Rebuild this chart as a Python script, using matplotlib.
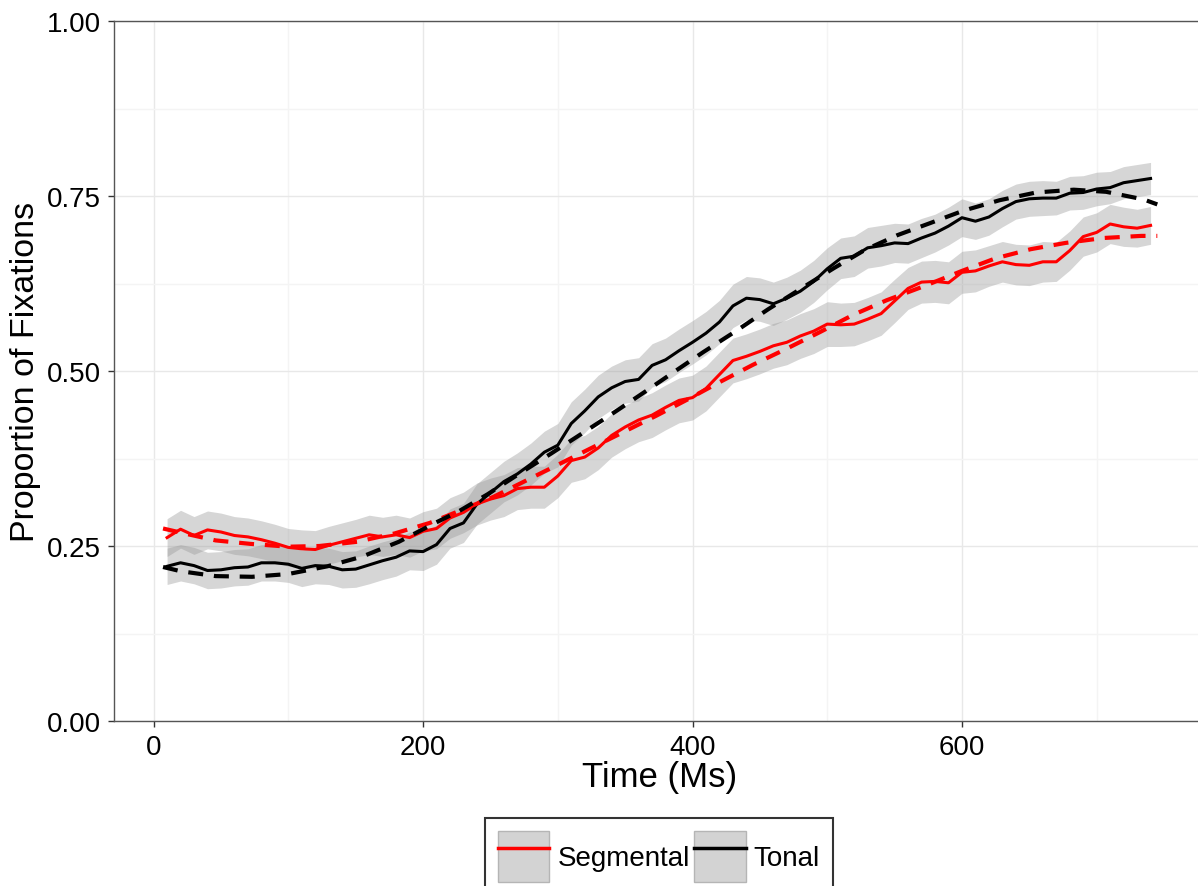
import matplotlib

matplotlib.use("Agg")
import matplotlib.pyplot as plt
from matplotlib.lines import Line2D
from matplotlib.patches import Patch
import numpy as np

plt.rcParams["font.family"] = ["Liberation Sans", "DejaVu Sans"]

# time bins (ms)
time_ms = list(range(10, 750, 10))

# observed proportions, one value per 10 ms bin
segmental = [
    0.262, 0.274, 0.265, 0.273, 0.270, 0.265, 0.263, 0.259, 0.254, 0.248,
    0.246, 0.245, 0.251, 0.256, 0.261, 0.266, 0.263, 0.266, 0.262, 0.271,
    0.275, 0.290, 0.298, 0.310, 0.317, 0.322, 0.332, 0.334, 0.334, 0.350,
    0.372, 0.377, 0.390, 0.408, 0.420, 0.430, 0.437, 0.448, 0.458, 0.462,
    0.475, 0.495, 0.515, 0.521, 0.528, 0.536, 0.541, 0.550, 0.557, 0.567,
    0.566, 0.567, 0.574, 0.582, 0.600, 0.618, 0.627, 0.628, 0.626, 0.641,
    0.643, 0.650, 0.656, 0.652, 0.651, 0.656, 0.656, 0.672, 0.692, 0.698,
    0.710, 0.706, 0.704, 0.708,
]
tonal = [
    0.221, 0.226, 0.222, 0.215, 0.216, 0.219, 0.220, 0.226, 0.226, 0.224,
    0.218, 0.222, 0.221, 0.216, 0.217, 0.223, 0.229, 0.234, 0.243, 0.242,
    0.252, 0.275, 0.283, 0.310, 0.326, 0.342, 0.353, 0.367, 0.384, 0.394,
    0.425, 0.443, 0.463, 0.476, 0.485, 0.488, 0.508, 0.516, 0.529, 0.541,
    0.554, 0.570, 0.593, 0.604, 0.602, 0.596, 0.604, 0.614, 0.628, 0.646,
    0.661, 0.664, 0.676, 0.679, 0.683, 0.682, 0.690, 0.697, 0.707, 0.719,
    0.714, 0.720, 0.732, 0.742, 0.746, 0.747, 0.747, 0.754, 0.755, 0.760,
    0.762, 0.769, 0.772, 0.775,
]

# half-width of the grey ribbons
segmental_se = [
    0.027, 0.027, 0.027, 0.027, 0.027, 0.027, 0.027, 0.027, 0.027, 0.027,
    0.027, 0.027, 0.027, 0.027, 0.027, 0.028, 0.028, 0.028, 0.028, 0.028,
    0.029, 0.029, 0.029, 0.030, 0.030, 0.030, 0.030, 0.030, 0.030, 0.031,
    0.031, 0.031, 0.031, 0.031, 0.031, 0.031, 0.032, 0.032, 0.032, 0.032,
    0.032, 0.032, 0.032, 0.032, 0.032, 0.032, 0.032, 0.032, 0.032, 0.032,
    0.031, 0.031, 0.031, 0.031, 0.031, 0.030, 0.030, 0.030, 0.030, 0.030,
    0.030, 0.029, 0.029, 0.029, 0.029, 0.029, 0.028, 0.028, 0.028, 0.028,
    0.028, 0.028, 0.027, 0.027,
]
tonal_se = [
    0.026, 0.026, 0.026, 0.026, 0.026, 0.026, 0.026, 0.026, 0.026, 0.026,
    0.026, 0.026, 0.026, 0.026, 0.026, 0.027, 0.027, 0.027, 0.027, 0.027,
    0.028, 0.028, 0.028, 0.029, 0.029, 0.029, 0.030, 0.030, 0.030, 0.031,
    0.031, 0.031, 0.031, 0.031, 0.031, 0.031, 0.031, 0.031, 0.031, 0.031,
    0.031, 0.031, 0.031, 0.031, 0.031, 0.031, 0.030, 0.030, 0.030, 0.030,
    0.029, 0.029, 0.029, 0.029, 0.028, 0.028, 0.028, 0.027, 0.027, 0.027,
    0.026, 0.026, 0.026, 0.025, 0.025, 0.025, 0.024, 0.024, 0.024, 0.024,
    0.023, 0.023, 0.023, 0.023,
]

# fitted curves (dashed)
segmental_fit_t = [7, 25, 46, 72, 100, 123, 151, 179, 205, 228, 252, 276, 300,
                   325, 349, 373, 397, 421, 445, 470, 495, 519, 544, 573, 600,
                   625, 651, 677, 705, 733, 745]
segmental_fit = [0.275, 0.267, 0.258, 0.253, 0.249, 0.250, 0.256, 0.268, 0.283,
                 0.301, 0.320, 0.343, 0.366, 0.390, 0.413, 0.436, 0.460, 0.485,
                 0.509, 0.532, 0.556, 0.580, 0.601, 0.622, 0.643, 0.661, 0.674,
                 0.683, 0.690, 0.693, 0.693]
tonal_fit_t = [7, 20, 46, 73, 100, 129, 155, 182, 209, 226, 248, 268, 295, 319,
               342, 366, 385, 408, 433, 456, 480, 505, 528, 552, 576, 601, 628,
               655, 683, 707, 735, 745]
tonal_fit = [0.220, 0.214, 0.207, 0.206, 0.210, 0.221, 0.235, 0.256, 0.283,
             0.299, 0.324, 0.349, 0.382, 0.412, 0.441, 0.472, 0.497, 0.527,
             0.558, 0.588, 0.617, 0.647, 0.673, 0.694, 0.711, 0.729, 0.744,
             0.755, 0.759, 0.756, 0.745, 0.738]

RED = "#ff0000"
BLACK = "#000000"

fig = plt.figure(figsize=(11.98, 8.87), dpi=100)
ax = fig.add_axes([114 / 1198, 1 - 722 / 887, 1091 / 1198, 700 / 887])

t = np.array(time_ms)
for vals, se in ((segmental, segmental_se), (tonal, tonal_se)):
    v, s = np.array(vals), np.array(se)
    ax.fill_between(t, v - s, v + s, color="#999999", alpha=0.4, lw=0, zorder=2)

ax.plot(t, segmental, color=RED, lw=2.2, zorder=3)
ax.plot(t, tonal, color=BLACK, lw=2.2, zorder=3)
ax.plot(segmental_fit_t, segmental_fit, color=RED, lw=3, dashes=(3.6, 2.6), zorder=4)
ax.plot(tonal_fit_t, tonal_fit, color=BLACK, lw=3, dashes=(3.6, 2.6), zorder=4)

ax.set_xlim(-29.4, 780.4)
ax.set_ylim(0, 1)
ax.set_xticks([0, 200, 400, 600])
ax.set_xticks([100, 300, 500, 700], minor=True)
ax.set_yticks([0, 0.25, 0.5, 0.75, 1.0])
ax.set_yticks([0.125, 0.375, 0.625, 0.875], minor=True)
ax.set_yticklabels(["0.00", "0.25", "0.50", "0.75", "1.00"])
ax.grid(which="major", color="#e8e8e8", lw=1.0, zorder=0)
ax.grid(which="minor", color="#f4f4f4", lw=1.0, zorder=0)
ax.set_axisbelow(True)
ax.tick_params(which="major", direction="out", length=4.5, width=1.0, color="#333333",
               labelsize=20, labelcolor="black", pad=5)
ax.tick_params(which="minor", length=0)
for side in ("left", "bottom", "top", "right"):
    ax.spines[side].set_color("#555555")
    ax.spines[side].set_linewidth(1.0)

ax.set_xlabel("Time (Ms)", fontsize=25, labelpad=0)
ax.set_ylabel("Proportion of Fixations", fontsize=24.5, labelpad=4)

handles = [
    (Patch(facecolor="#d3d3d3", edgecolor="#b5b5b5"), Line2D([], [], color=RED, lw=2.5)),
    (Patch(facecolor="#d3d3d3", edgecolor="#b5b5b5"), Line2D([], [], color=BLACK, lw=2.5)),
]
leg = fig.legend(handles, ["Segmental", "Tonal"], loc="upper center",
                 bbox_to_anchor=(659 / 1198, 1 - 819 / 887), ncol=2, fontsize=20,
                 frameon=True, fancybox=False, edgecolor="black", handlelength=1.85,
                 handleheight=2.5, handletextpad=0.3, columnspacing=0.15,
                 borderpad=0.45, borderaxespad=0)
leg.get_frame().set_linewidth(1.5)

fig.savefig("out.png", dpi=100)
